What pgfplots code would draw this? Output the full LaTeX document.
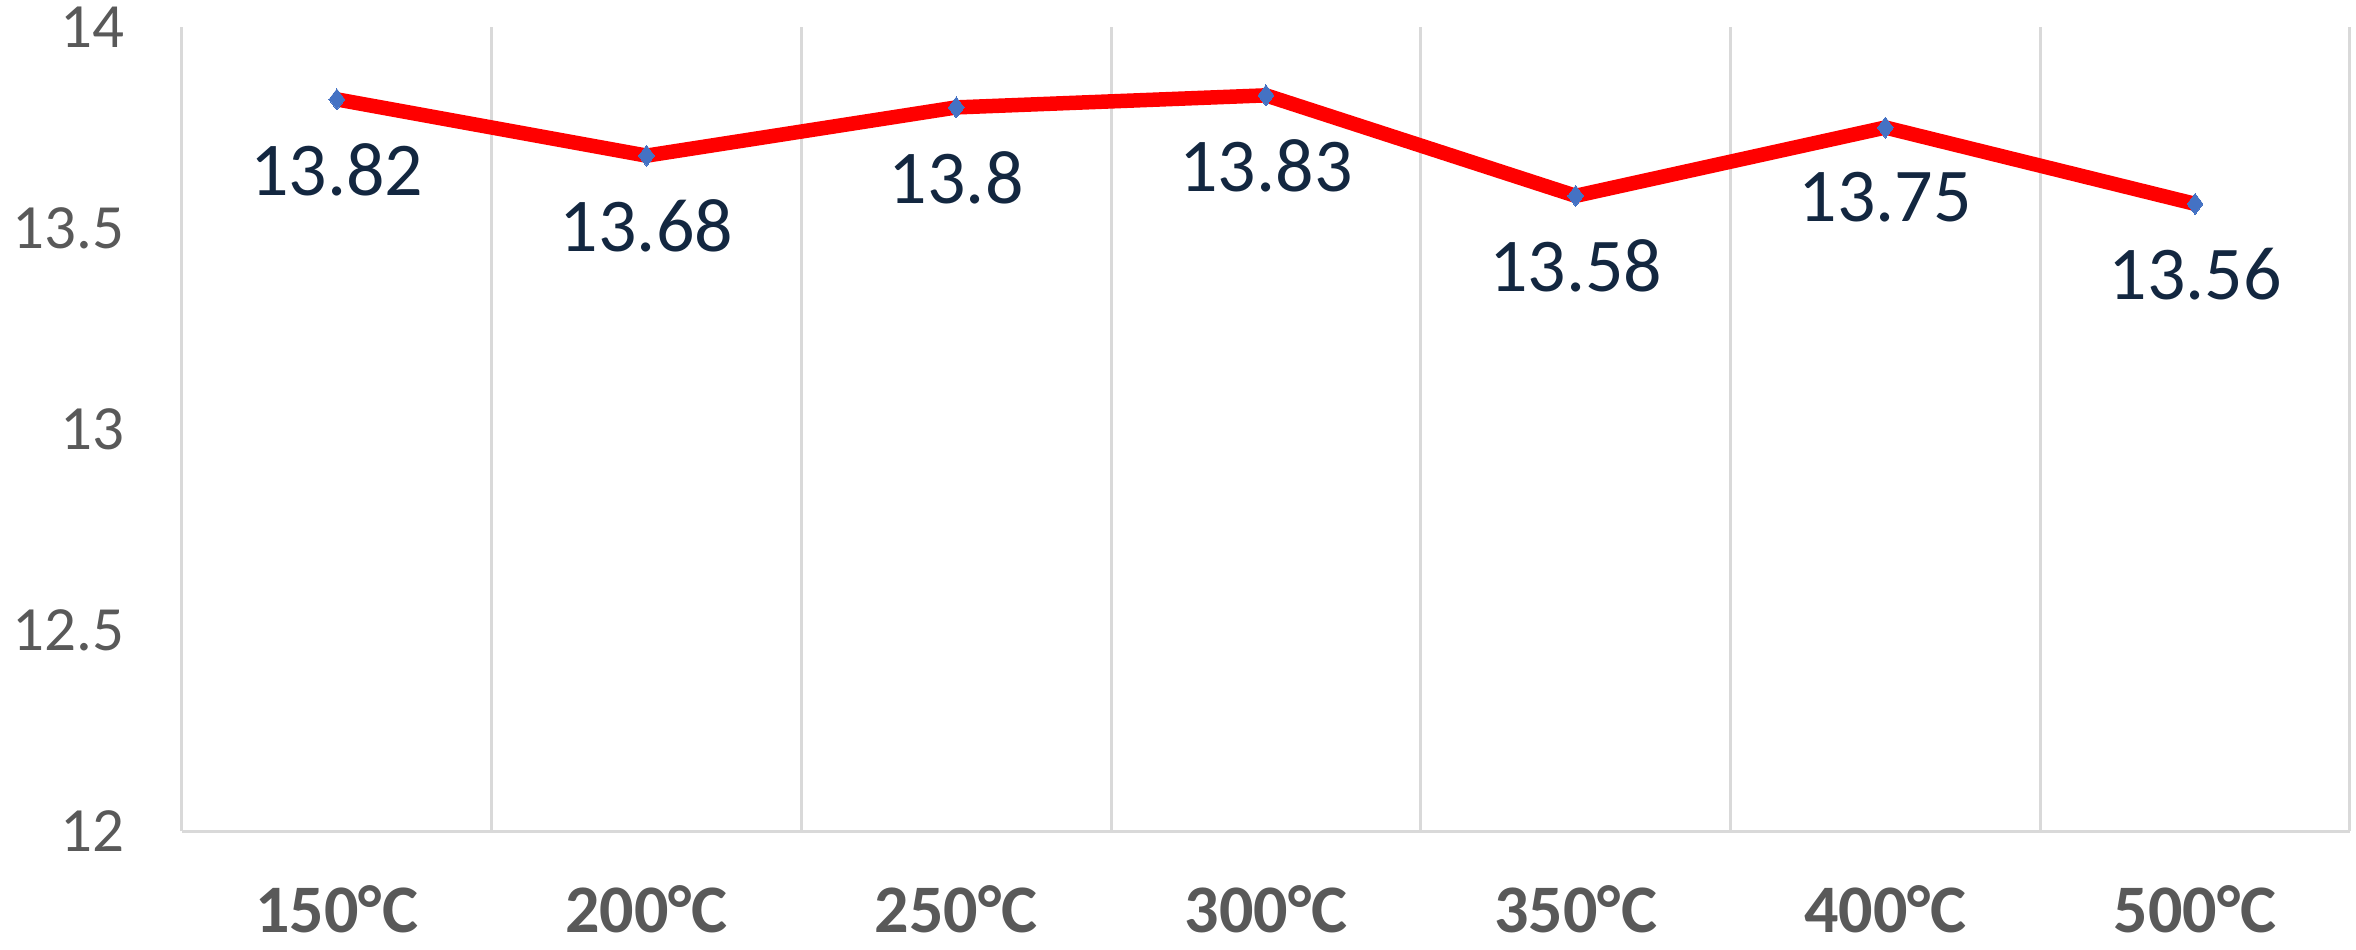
\documentclass[border=0pt]{standalone}
\usepackage{fontspec}
\setmainfont{Carlito}
\usepackage{pgfplots}
\pgfplotsset{compat=1.18}
\definecolor{tickgray}{RGB}{89,89,89}
\definecolor{gridgray}{RGB}{217,217,217}
\definecolor{lblnavy}{RGB}{19,39,64}
\definecolor{mkblue}{RGB}{68,114,196}

\begin{document}
\begin{tikzpicture}
% canvas 2356x950 px at 0.2pt per px
\path[use as bounding box] (-36.4pt,-23.8pt) rectangle (434.8pt,166.2pt);
\begin{axis}[
  at={(0,0)}, anchor=south west,
  scale only axis,
  width=433.6pt, height=160.8pt,
  xmin=-0.5, xmax=6.5,
  ymin=12, ymax=14,
  xtick={0,...,6},
  xticklabels={150°C,200°C,250°C,300°C,350°C,400°C,500°C},
  ytick={12,12.5,13,13.5,14},
  minor xtick={-0.5,0.5,1.5,2.5,3.5,4.5,5.5,6.5},
  xminorgrids,
  minor grid style={gridgray, line width=0.6pt},
  major tick length=0pt, minor tick length=0pt,
  axis x line*=bottom, axis y line*=left,
  x axis line style={gridgray, line width=0.6pt, -},
  y axis line style={draw=none},
  /pgf/number format/assume math mode=true,
  yticklabel style={font=\fontsize{12.6}{14}\selectfont, text=tickgray, xshift=-8pt},
  xticklabel style={font=\fontsize{13.6}{15}\selectfont\bfseries, text=tickgray, anchor=center, yshift=-15.6pt},
  nodes near coords,
  every node near coord/.append style={font=\fontsize{15.2}{17}\selectfont, text=lblnavy, anchor=center, yshift=-14pt},
  clip=false,
]
\addplot[red, line width=2.9pt, mark=diamond*, mark size=2.1pt,
  mark options={fill=mkblue, draw=mkblue, line width=0pt}]
  coordinates {(0,13.82) (1,13.68) (2,13.8) (3,13.83) (4,13.58) (5,13.75) (6,13.56)};
\end{axis}
\end{tikzpicture}
\end{document}
